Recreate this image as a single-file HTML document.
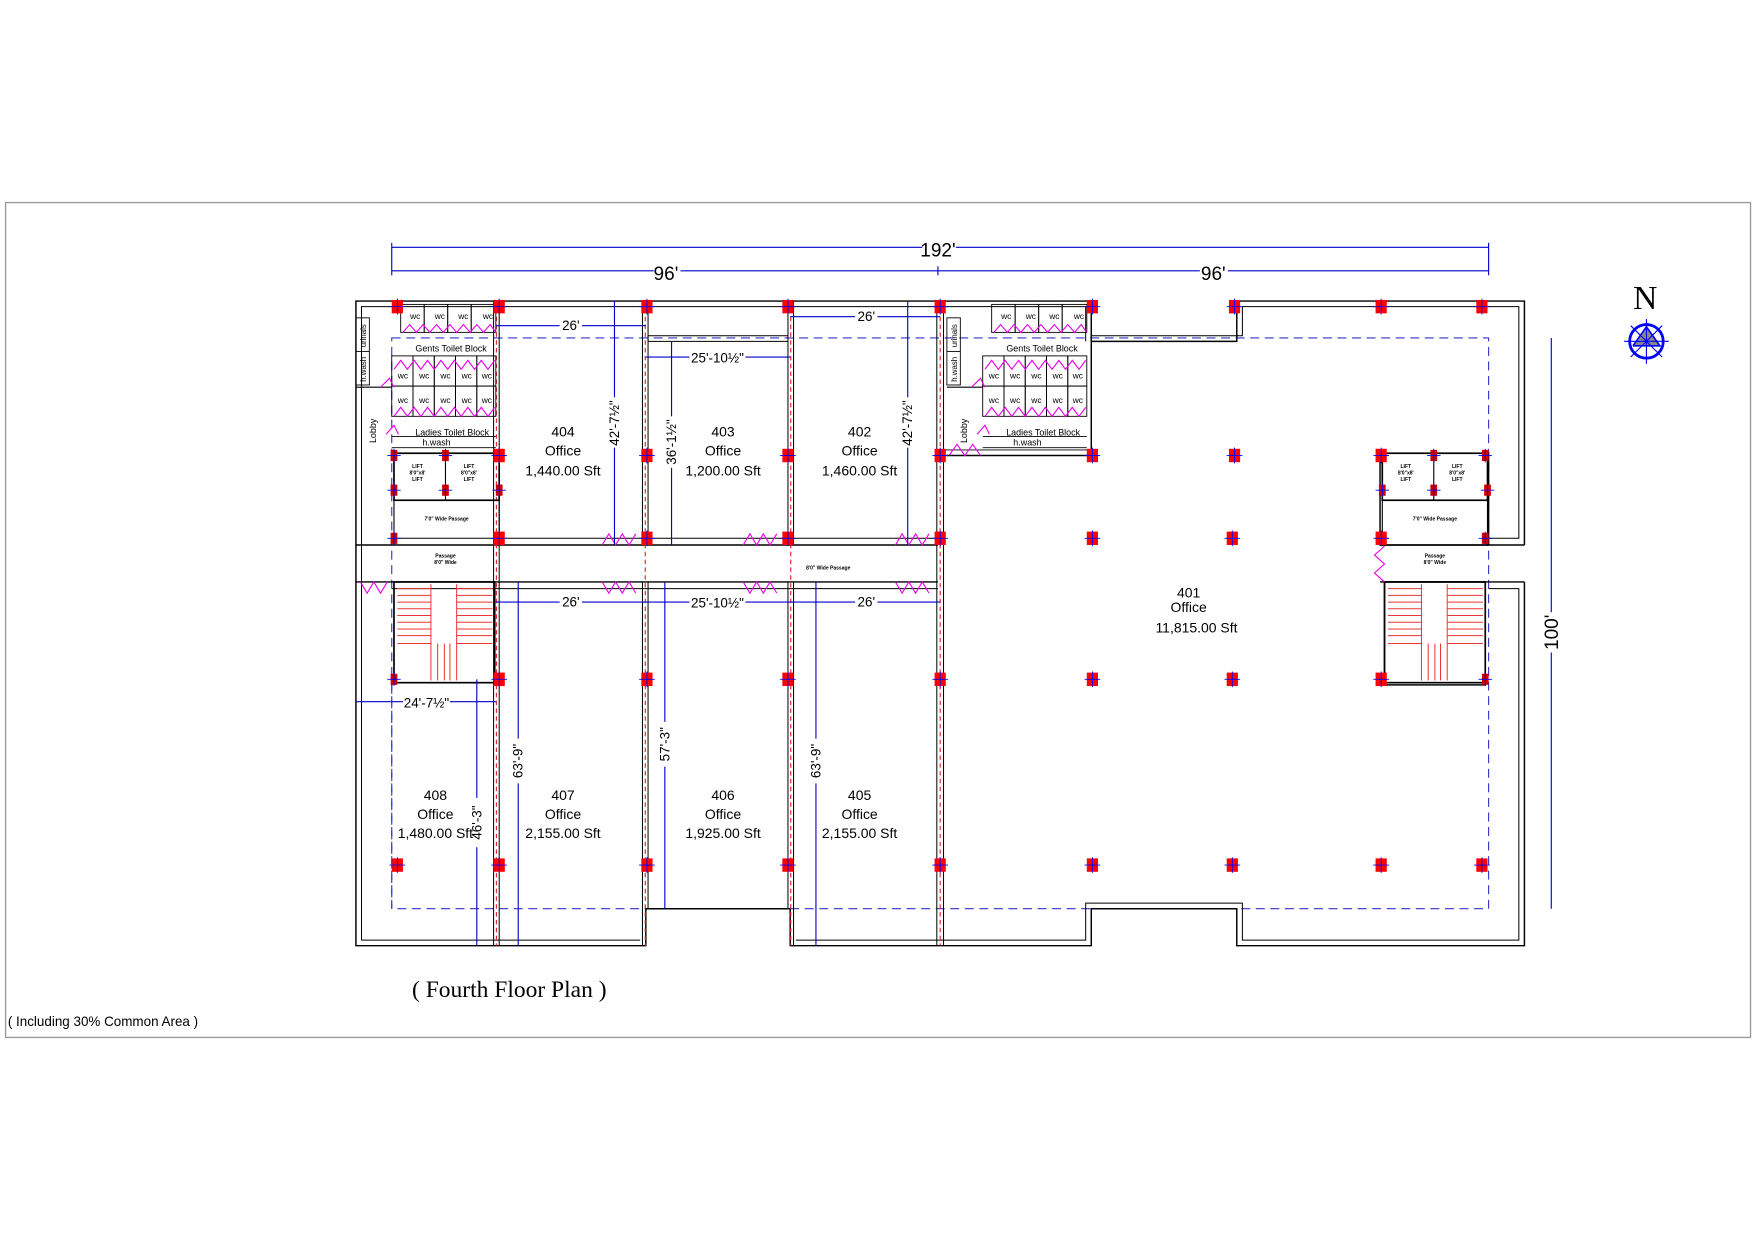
<!DOCTYPE html>
<html><head><meta charset="utf-8"><style>
html,body{margin:0;padding:0;background:#fff;width:1755px;height:1240px;overflow:hidden}
svg{display:block}
text{font-family:"Liberation Sans",sans-serif}
</style></head><body>
<svg width="1755" height="1240" viewBox="0 0 1568 1108" preserveAspectRatio="none" xmlns="http://www.w3.org/2000/svg">
<defs>
<g id="col"><rect x="-5" y="-6" width="10" height="12" fill="#f00"/><path d="M-7 0H7M0 -7V7" stroke="#00f" stroke-width="0.8"/></g>
<g id="scol"><rect x="-3" y="-5" width="6" height="10" fill="#c00"/><path d="M-6 0H6M0 -6V6" stroke="#00f" stroke-width="0.8"/></g>
<g id="dr"><polyline points="0,0 6,-10 12,0 18,-10 24,0 30,-10" fill="none" stroke="#e0e" stroke-width="1"/></g>
<g id="toilet">
 <!-- urinals / h.wash boxes -->
 <rect x="318" y="284" width="12" height="60" fill="none" stroke="#000" stroke-width="0.8"/>
 <line x1="318" y1="314" x2="330" y2="314" stroke="#000" stroke-width="0.8"/>
 <text x="0" y="0" font-size="7" transform="translate(327,300) rotate(-90)" text-anchor="middle">urinals</text>
 <text x="0" y="0" font-size="7" transform="translate(327,330) rotate(-90)" text-anchor="middle">h.wash</text>
 <line x1="318" y1="346" x2="350" y2="346" stroke="#000" stroke-width="1"/>
 <text x="0" y="0" font-size="8" transform="translate(336,385) rotate(-90)" text-anchor="middle">Lobby</text>
 <!-- top wc -->
 <g fill="none" stroke="#000" stroke-width="0.8">
  <rect x="358" y="272" width="21" height="25"/><rect x="379" y="272" width="21" height="25"/><rect x="400" y="272" width="21" height="25"/><rect x="421" y="272" width="22" height="25"/>
  <rect x="350" y="318" width="19" height="27"/><rect x="369" y="318" width="19" height="27"/><rect x="388" y="318" width="19" height="27"/><rect x="407" y="318" width="19" height="27"/><rect x="426" y="318" width="17" height="27"/>
  <rect x="350" y="345" width="19" height="27"/><rect x="369" y="345" width="19" height="27"/><rect x="388" y="345" width="19" height="27"/><rect x="407" y="345" width="19" height="27"/><rect x="426" y="345" width="17" height="27"/>
  <line x1="350" y1="390" x2="443" y2="390"/>
  <line x1="350" y1="400" x2="443" y2="400"/>
 </g>
 <g font-size="7.5" text-anchor="middle">
  <text x="371" y="285">wc</text><text x="393" y="285">wc</text><text x="414" y="285">wc</text><text x="436" y="285">wc</text>
  <text x="360" y="338">wc</text><text x="379" y="338">wc</text><text x="398" y="338">wc</text><text x="417" y="338">wc</text><text x="435" y="338">wc</text>
  <text x="360" y="360">wc</text><text x="379" y="360">wc</text><text x="398" y="360">wc</text><text x="417" y="360">wc</text><text x="435" y="360">wc</text>
 </g>
 <text x="403" y="314" font-size="8" text-anchor="middle">Gents Toilet Block</text>
 <text x="404" y="389" font-size="8" text-anchor="middle">Ladies Toilet Block</text>
 <text x="390" y="398" font-size="8" text-anchor="middle">h.wash</text>
 <g fill="none" stroke="#e0e" stroke-width="1">
  <polyline points="360,297 366,290 372,297 378,290 384,297 390,290 396,297 402,290 408,297 414,290 420,297 426,290 432,297 438,290 443,297"/>
  <polyline points="352,330 358,322 364,330 370,322 376,330 382,322 388,330 394,322 400,330 406,322 412,330 418,322 424,330 430,322 436,330 442,322"/>
  <polyline points="352,372 358,364 364,372 370,364 376,372 382,364 388,372 394,364 400,372 406,364 412,372 418,364 424,372 430,364 436,372 442,364"/>
  <polyline points="340,346 348,338 352,346"/>
  <polyline points="345,388 352,380 356,388"/>
 </g>
</g>
<g id="lift">
 <g fill="none" stroke="#000" stroke-width="1">
  <rect x="352" y="405" width="94" height="42" stroke-width="1.5"/>
  <line x1="398" y1="405" x2="398" y2="447"/>
  <line x1="352" y1="447" x2="352" y2="487"/>
  <line x1="446" y1="447" x2="446" y2="487"/>
 </g>
 <g font-size="4.5" text-anchor="middle" font-weight="bold">
  <text x="373" y="418">LIFT</text><text x="373" y="424">8'0"x8'</text><text x="373" y="430">LIFT</text>
  <text x="419" y="418">LIFT</text><text x="419" y="424">8'0"x8'</text><text x="419" y="430">LIFT</text>
  <text x="399" y="465">7'0" Wide Passage</text>
 </g>
 <use href="#scol" x="352" y="407"/><use href="#scol" x="398" y="407"/><use href="#scol" x="352" y="438"/><use href="#scol" x="398" y="438"/><use href="#scol" x="446" y="438"/><use href="#scol" x="352" y="481"/>
</g>
<g id="stair">
 <rect x="352" y="520" width="90" height="90" fill="none" stroke="#000" stroke-width="1.5"/>
 <g stroke="#e33" stroke-width="0.9">
  <line x1="355" y1="526" x2="385" y2="526"/><line x1="355" y1="532" x2="385" y2="532"/><line x1="355" y1="538" x2="385" y2="538"/><line x1="355" y1="544" x2="385" y2="544"/><line x1="355" y1="550" x2="385" y2="550"/><line x1="355" y1="556" x2="385" y2="556"/><line x1="355" y1="562" x2="385" y2="562"/><line x1="355" y1="568" x2="385" y2="568"/><line x1="355" y1="575" x2="385" y2="575"/>
  <line x1="408" y1="526" x2="440" y2="526"/><line x1="408" y1="532" x2="440" y2="532"/><line x1="408" y1="538" x2="440" y2="538"/><line x1="408" y1="544" x2="440" y2="544"/><line x1="408" y1="550" x2="440" y2="550"/><line x1="408" y1="556" x2="440" y2="556"/><line x1="408" y1="562" x2="440" y2="562"/><line x1="408" y1="568" x2="440" y2="568"/><line x1="408" y1="575" x2="440" y2="575"/>
  <line x1="385" y1="522" x2="385" y2="608"/><line x1="408" y1="522" x2="408" y2="608"/>
  <line x1="391" y1="575" x2="391" y2="608"/><line x1="397" y1="575" x2="397" y2="608"/><line x1="402" y1="575" x2="402" y2="608"/>
 </g>
</g>
</defs>

<rect x="0" y="0" width="1568" height="1108" fill="#fff"/>
<rect x="5" y="181" width="1559" height="746" fill="none" stroke="#999" stroke-width="1.2"/>

<!-- top dimensions -->
<g stroke="#00c" stroke-width="1" fill="none">
 <line x1="350" y1="221" x2="824" y2="221"/><line x1="854" y1="221" x2="1330" y2="221"/>
 <line x1="350" y1="242" x2="584" y2="242"/><line x1="608" y1="242" x2="1072" y2="242"/><line x1="1097" y1="242" x2="1330" y2="242"/>
 <line x1="350" y1="217" x2="350" y2="246"/><line x1="1330" y1="217" x2="1330" y2="246"/><line x1="838" y1="238" x2="838" y2="246"/>
 <line x1="1386" y1="302" x2="1386" y2="547"/><line x1="1386" y1="583" x2="1386" y2="812"/>
</g>
<text x="838" y="229" font-size="17" text-anchor="middle">192'</text>
<text x="595" y="250" font-size="17" text-anchor="middle">96'</text>
<text x="1084" y="250" font-size="17" text-anchor="middle">96'</text>
<text x="0" y="0" font-size="17" text-anchor="middle" transform="translate(1392,565) rotate(-90)">100'</text>

<!-- North -->
<text x="1470" y="276" font-size="30" font-family="Liberation Serif,serif" text-anchor="middle" style="font-family:'Liberation Serif',serif">N</text>
<g transform="translate(1471,305)">
 <polygon points="0,-13 -12,4 12,4" fill="#888"/>
 <circle r="15" fill="none" stroke="#00f" stroke-width="2.5"/>
 <path d="M-20 0H20M0 -20V20M-14 -14L14 14M14 -14L-14 14" stroke="#00f" stroke-width="1"/>
 <polyline points="-12,4 0,-13 12,4 -12,4" fill="none" stroke="#00f" stroke-width="1.5"/>
</g>

<!-- blue dashed boundary -->
<rect x="350" y="302" width="980" height="510" fill="none" stroke="#33c" stroke-width="1" stroke-dasharray="8,5"/>

<!-- outer walls -->
<g fill="none" stroke="#000" stroke-width="1.3">
 <polyline points="975,305 975,269 318,269 318,845 577,845 577,812 706,812 706,845 975,845 975,812 1105,812 1105,845 1362,845 1362,520"/>
 <polyline points="1362,487 1362,269 1105,269 1105,305 975,305"/>
 <polyline points="970,305 970,274 323,274 323,840 572,840" stroke-width="0.9"/>
 <polyline points="711,840 970,840 970,807 1110,807 1110,840 1357,840 1357,526 1330,526" stroke-width="0.9"/>
 <polyline points="1330,481 1357,481 1357,274 1110,274 1110,300 975,300" stroke-width="0.9"/>
 <!-- passage -->
 <line x1="318" y1="487" x2="838" y2="487"/><line x1="318" y1="520" x2="838" y2="520"/>
 <line x1="350" y1="481" x2="838" y2="481" stroke-width="0.9"/><line x1="350" y1="526" x2="838" y2="526" stroke-width="0.9"/>
 <line x1="1233" y1="487" x2="1362" y2="487"/><line x1="1233" y1="520" x2="1362" y2="520"/>
 <!-- partitions -->
 <line x1="441" y1="269" x2="441" y2="845" stroke-width="0.9"/><line x1="446" y1="269" x2="446" y2="845" stroke-width="0.9"/>
 <line x1="574" y1="269" x2="574" y2="487" stroke-width="0.9"/><line x1="579" y1="269" x2="579" y2="487" stroke-width="0.9"/>
 <line x1="574" y1="520" x2="574" y2="845" stroke-width="0.9"/><line x1="579" y1="520" x2="579" y2="812" stroke-width="0.9"/>
 <line x1="704" y1="269" x2="704" y2="487" stroke-width="0.9"/><line x1="709" y1="269" x2="709" y2="487" stroke-width="0.9"/>
 <line x1="704" y1="520" x2="704" y2="812" stroke-width="0.9"/><line x1="709" y1="520" x2="709" y2="845" stroke-width="0.9"/>
 <line x1="837" y1="269" x2="837" y2="845" stroke-width="0.9"/><line x1="843" y1="269" x2="843" y2="845" stroke-width="0.9"/>
 <!-- room 403 top -->
 <polyline points="579,305 579,300 704,300" stroke-width="0.9"/>
 <line x1="579" y1="305" x2="704" y2="305" stroke-width="0.9"/>
 <!-- right toilet block walls -->
 <line x1="975" y1="305" x2="975" y2="407"/><line x1="843" y1="407" x2="975" y2="407"/>
 <line x1="843" y1="402" x2="975" y2="402" stroke-width="0.8"/>
 <!-- right shaft walls -->
 <rect x="1233" y="405" width="97" height="82"/>
 <rect x="1237" y="520" width="90" height="92"/>
</g>
<!-- red dashed centers -->
<g stroke="#d22" stroke-width="1" stroke-dasharray="4,3">
 <line x1="443.5" y1="269" x2="443.5" y2="845"/>
 <line x1="576.5" y1="269" x2="576.5" y2="845"/>
 <line x1="706.5" y1="269" x2="706.5" y2="845"/>
 <line x1="840" y1="269" x2="840" y2="845"/>
</g>

<use href="#toilet"/>
<use href="#toilet" transform="translate(528,0)"/>
<use href="#lift"/>
<use href="#lift" transform="translate(883,0)"/>
<use href="#stair"/>
<use href="#stair" transform="translate(885,0)"/>

<g font-size="4.5" text-anchor="middle" font-weight="bold">
 <text x="398" y="498">Passage</text><text x="398" y="504">8'0" Wide</text>
 <text x="740" y="509">8'0" Wide Passage</text>
 <text x="1282" y="498">Passage</text><text x="1282" y="504">8'0" Wide</text>
</g>

<!-- doors -->
<g fill="none" stroke="#e0e" stroke-width="1">
 <polyline points="538,487 544,477 550,487 556,477 562,487 568,477"/>
 <polyline points="664,487 670,477 676,487 682,477 688,487 694,477"/>
 <polyline points="800,487 806,477 812,487 818,477 824,487 830,477"/>
 <polyline points="538,520 544,530 550,520 556,530 562,520 568,530"/>
 <polyline points="664,520 670,530 676,520 682,530 688,520 694,530"/>
 <polyline points="800,520 806,530 812,520 818,530 824,520 830,530"/>
 <polyline points="322,520 328,530 334,520 340,530 346,520"/>
 <polyline points="848,407 855,397 862,407 869,397 876,407"/>
 <polyline points="1237,488 1228,496 1237,504 1228,512 1237,520"/>
</g>

<!-- columns -->
<g>
 <use href="#col" x="355" y="274"/><use href="#col" x="446" y="274"/><use href="#col" x="578" y="274"/><use href="#col" x="704" y="274"/><use href="#col" x="840" y="274"/><use href="#col" x="976" y="274"/><use href="#col" x="1103" y="274"/><use href="#col" x="1234" y="274"/><use href="#col" x="1324" y="274"/>
 <use href="#col" x="446" y="407"/><use href="#col" x="578" y="407"/><use href="#col" x="704" y="407"/><use href="#col" x="840" y="407"/><use href="#col" x="976" y="407"/><use href="#col" x="1103" y="407"/><use href="#col" x="1234" y="407"/><use href="#scol" x="1327" y="407"/>
 <use href="#col" x="446" y="481"/><use href="#col" x="578" y="481"/><use href="#col" x="704" y="481"/><use href="#col" x="840" y="481"/><use href="#col" x="976" y="481"/><use href="#col" x="1101" y="481"/><use href="#col" x="1234" y="481"/><use href="#scol" x="1327" y="481"/>
 <use href="#scol" x="352" y="607"/><use href="#col" x="446" y="607"/><use href="#col" x="578" y="607"/><use href="#col" x="704" y="607"/><use href="#col" x="840" y="607"/><use href="#col" x="976" y="607"/><use href="#col" x="1101" y="607"/><use href="#col" x="1234" y="607"/><use href="#scol" x="1327" y="607"/>
 <use href="#col" x="355" y="773"/><use href="#col" x="446" y="773"/><use href="#col" x="578" y="773"/><use href="#col" x="704" y="773"/><use href="#col" x="840" y="773"/><use href="#col" x="976" y="773"/><use href="#col" x="1101" y="773"/><use href="#col" x="1234" y="773"/><use href="#col" x="1324" y="773"/>
</g>

<!-- inner dimensions -->
<g stroke="#00c" stroke-width="1" fill="none">
 <line x1="443" y1="291" x2="500" y2="291"/><line x1="520" y1="291" x2="577" y2="291"/>
 <line x1="706" y1="283" x2="764" y2="283"/><line x1="784" y1="283" x2="840" y2="283"/>
 <line x1="577" y1="319" x2="616" y2="319"/><line x1="666" y1="319" x2="706" y2="319"/>
 <line x1="549" y1="269" x2="549" y2="355"/><line x1="549" y1="400" x2="549" y2="487"/>
 <line x1="600" y1="305" x2="600" y2="372"/><line x1="600" y1="418" x2="600" y2="487"/>
 <line x1="811" y1="269" x2="811" y2="355"/><line x1="811" y1="400" x2="811" y2="487"/>
 <line x1="443" y1="538" x2="500" y2="538"/><line x1="520" y1="538" x2="577" y2="538"/>
 <line x1="577" y1="538" x2="616" y2="538"/><line x1="666" y1="538" x2="706" y2="538"/>
 <line x1="706" y1="538" x2="764" y2="538"/><line x1="784" y1="538" x2="840" y2="538"/>
 <line x1="318" y1="627" x2="360" y2="627"/><line x1="402" y1="627" x2="443" y2="627"/>
 <line x1="426" y1="607" x2="426" y2="713"/><line x1="426" y1="757" x2="426" y2="845"/>
 <line x1="463" y1="520" x2="463" y2="660"/><line x1="463" y1="700" x2="463" y2="845"/>
 <line x1="594" y1="520" x2="594" y2="645"/><line x1="594" y1="685" x2="594" y2="812"/>
 <line x1="729" y1="520" x2="729" y2="660"/><line x1="729" y1="700" x2="729" y2="845"/>
 <line x1="350" y1="612" x2="350" y2="812" stroke-dasharray="8,5" stroke="#33c"/>
</g>
<g font-size="12" text-anchor="middle">
 <text x="510" y="295">26'</text><text x="774" y="287">26'</text>
 <text x="641" y="324">25'-10½"</text>
 <text x="510" y="542">26'</text><text x="641" y="543">25'-10½"</text><text x="774" y="542">26'</text>
 <text x="381" y="632">24'-7½"</text>
 <text transform="translate(553,378) rotate(-90)">42'-7½"</text>
 <text transform="translate(604,395) rotate(-90)">36'-1½"</text>
 <text transform="translate(815,378) rotate(-90)">42'-7½"</text>
 <text transform="translate(430,735) rotate(-90)">46'-3"</text>
 <text transform="translate(467,680) rotate(-90)">63'-9"</text>
 <text transform="translate(598,665) rotate(-90)">57'-3"</text>
 <text transform="translate(733,680) rotate(-90)">63'-9"</text>
</g>

<!-- room labels -->
<g font-size="12.5" text-anchor="middle">
 <text x="503" y="390">404</text><text x="503" y="407">Office</text><text x="503" y="425">1,440.00 Sft</text>
 <text x="646" y="390">403</text><text x="646" y="407">Office</text><text x="646" y="425">1,200.00 Sft</text>
 <text x="768" y="390">402</text><text x="768" y="407">Office</text><text x="768" y="425">1,460.00 Sft</text>
 <text x="1062" y="534">401</text><text x="1062" y="547">Office</text><text x="1069" y="565">11,815.00 Sft</text>
 <text x="389" y="715">408</text><text x="389" y="732">Office</text><text x="389" y="749">1,480.00 Sft</text>
 <text x="503" y="715">407</text><text x="503" y="732">Office</text><text x="503" y="749">2,155.00 Sft</text>
 <text x="646" y="715">406</text><text x="646" y="732">Office</text><text x="646" y="749">1,925.00 Sft</text>
 <text x="768" y="715">405</text><text x="768" y="732">Office</text><text x="768" y="749">2,155.00 Sft</text>
</g>

<text x="455" y="891" font-size="21" text-anchor="middle" style="font-family:'Liberation Serif',serif">( Fourth  Floor Plan )</text>
<text x="7" y="917" font-size="12">( Including 30% Common Area )</text>
</svg>
</body></html>
